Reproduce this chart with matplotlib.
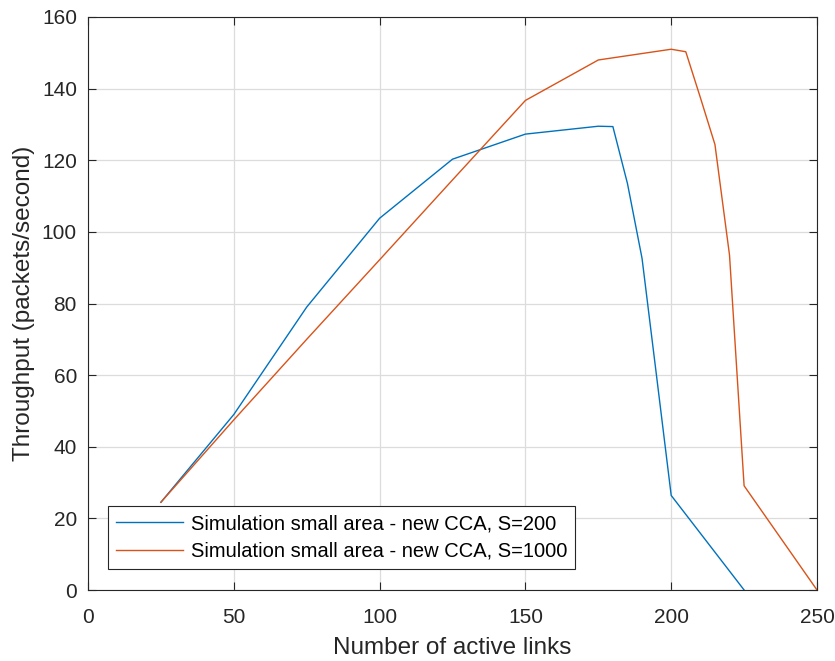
import matplotlib
matplotlib.use("Agg")
import matplotlib.pyplot as plt

plt.rcParams['font.family'] = ['Liberation Sans', 'DejaVu Sans']

# Data
x_s200 = [25, 50, 75, 100, 125, 150, 175, 180, 185, 190, 195, 200, 225]
y_s200 = [24.5, 49.0, 79.0, 103.8, 120.3, 127.3, 129.5, 129.4, 113.5, 92.6, 59.6, 26.4, 0.0]

x_s1000 = [25, 50, 75, 100, 125, 150, 175, 200, 205, 210, 215, 220, 225, 250]
y_s1000 = [24.5, 47.5, 70.0, 92.2, 114.5, 136.7, 148.0, 151.0, 150.3, 137.5, 124.4, 93.5, 29.1, 0.0]

labels = ["Simulation small area - new CCA, S=200",
          "Simulation small area - new CCA, S=1000"]
xlabel = "Number of active links"
ylabel = "Throughput (packets/second)"
xticks = [0, 50, 100, 150, 200, 250]
yticks = [0, 20, 40, 60, 80, 100, 120, 140, 160]

dark = '#262626'
fig = plt.figure(figsize=(8.35, 6.61), dpi=100)
ax = fig.add_axes([88/835, 71/661, 729/835, 573/661])

ax.plot(x_s200, y_s200, color='#0072BD', lw=1.0, label=labels[0])
ax.plot(x_s1000, y_s1000, color='#D95319', lw=1.0, label=labels[1])

ax.set_xlim(0, 250)
ax.set_ylim(0, 160)
ax.set_xticks(xticks)
ax.set_yticks(yticks)
ax.grid(True, color='#dcdcdc', lw=0.9)
ax.set_axisbelow(True)
ax.tick_params(direction='in', length=6, width=0.8, colors=dark,
               labelsize=15, top=True, right=True)
ax.tick_params(axis='x', pad=13)
ax.tick_params(axis='y', pad=8)
for sp in ax.spines.values():
    sp.set_color(dark)
    sp.set_linewidth(0.8)

ax.set_xlabel(xlabel, fontsize=17.5, color=dark, labelpad=7)
ax.set_ylabel(ylabel, fontsize=17.5, color=dark, labelpad=5)

leg = ax.legend(loc='lower left', bbox_to_anchor=(20/729, 21/573), borderaxespad=0,
                fontsize=14.5, handlelength=3.3, handletextpad=0.42,
                borderpad=0.4, labelspacing=0.42, fancybox=False,
                framealpha=1, edgecolor=dark)
leg.get_frame().set_linewidth(0.8)
for t in leg.get_texts():
    t.set_color('black')

fig.savefig('out.png', dpi=100)
